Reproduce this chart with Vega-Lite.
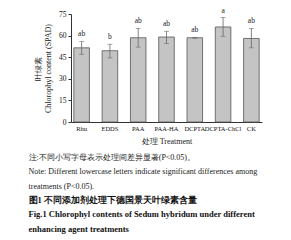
{
  "$schema": "https://vega.github.io/schema/vega-lite/v6.json",
  "width": 191,
  "height": 108,
  "padding": {"left": 28, "top": 6, "right": 5, "bottom": 5},
  "background": "white",
  "config": {
    "view": {"stroke": null},
    "font": "Liberation Serif",
    "axis": {"labelFont": "Liberation Serif", "titleFont": "Liberation Serif", "domainColor": "#333", "tickColor": "#333", "labelColor": "#111", "titleColor": "#222", "labelFontSize": 7.5, "titleFontSize": 8, "titleFontWeight": "normal", "grid": false}
  },
  "data": {"values": [
    {"t": "Rhu", "v": 51.5, "lo": 47, "hi": 56, "l": "ab"},
    {"t": "EDDS", "v": 49.5, "lo": 44.5, "hi": 54, "l": "b"},
    {"t": "PAA", "v": 58.5, "lo": 52, "hi": 65, "l": "ab"},
    {"t": "PAA-HA", "v": 59, "lo": 54.5, "hi": 63, "l": "ab"},
    {"t": "DCPTA", "v": 58.5, "lo": 58.2, "hi": 58.8, "l": "ab"},
    {"t": "DCPTA-ChCl", "v": 66, "lo": 59.5, "hi": 72.5, "l": "a"},
    {"t": "CK", "v": 58, "lo": 51.5, "hi": 65, "l": "ab"}
  ]},
  "encoding": {
    "x": {"field": "t", "type": "nominal", "sort": null,
      "scale": {"paddingInner": 0.45, "paddingOuter": 0.1},
      "axis": {"title": "处理 Treatment", "labelAngle": 0, "ticks": false, "labelPadding": 3, "titlePadding": 6, "labelFontSize": 6.5}},
    "y": {"type": "quantitative", "scale": {"domain": [0, 75], "nice": false},
      "axis": {"title": ["叶绿素", "Chlorophyl content (SPAD)"], "values": [0, 15, 30, 45, 60, 75], "tickSize": 3, "labelPadding": 2, "titlePadding": 6, "titleLineHeight": 10, "labelOverlap": false, "labelBound": false, "labelFlush": false, "zindex": 1}}
  },
  "layer": [
    {"mark": {"type": "bar", "color": "#c4c4c4", "stroke": "#555", "strokeWidth": 0.8},
     "encoding": {"y": {"field": "v"}}},
    {"mark": {"type": "rule", "color": "#666", "strokeWidth": 0.8},
     "encoding": {"y": {"field": "lo"}, "y2": {"field": "hi"}}},
    {"mark": {"type": "tick", "color": "#666", "size": 5, "thickness": 0.8},
     "encoding": {"y": {"field": "lo"}}},
    {"mark": {"type": "tick", "color": "#666", "size": 5, "thickness": 0.8},
     "encoding": {"y": {"field": "hi"}}},
    {"mark": {"type": "text", "baseline": "bottom", "dy": -3, "fontSize": 7.5, "color": "#222"},
     "encoding": {"y": {"field": "hi"}, "text": {"field": "l"}}}
  ],
  "title": {
    "text": ["注:不同小写字母表示处理间差异显著(P<0.05)。", "Note: Different lowercase letters indicate significant differences among", "\u00a0\u00a0\u00a0\u00a0\u00a0\u00a0\u00a0\u00a0\u00a0\u00a0treatments (P<0.05)."],
    "subtitle": ["\u00a0\u00a0\u00a0\u00a0\u00a0\u00a0\u00a0\u00a0\u00a0\u00a0\u00a0\u00a0\u00a0\u00a0\u00a0\u00a0图1  不同添加剂处理下德国景天叶绿素含量", "Fig.1   Chlorophyl contents of Sedum hybridum under different", "\u00a0\u00a0\u00a0\u00a0\u00a0\u00a0\u00a0\u00a0\u00a0\u00a0\u00a0\u00a0\u00a0enhancing agent treatments"],
    "orient": "bottom", "anchor": "start", "frame": "bounds", "dx": -6, "offset": 8,
    "font": "Liberation Serif", "fontSize": 8, "fontWeight": "normal", "lineHeight": 14.5, "color": "#222",
    "subtitleFont": "Liberation Serif", "subtitleFontSize": 8.5, "subtitleFontWeight": "bold", "subtitleLineHeight": 14.5, "subtitleColor": "#111", "subtitlePadding": 5
  }
}
